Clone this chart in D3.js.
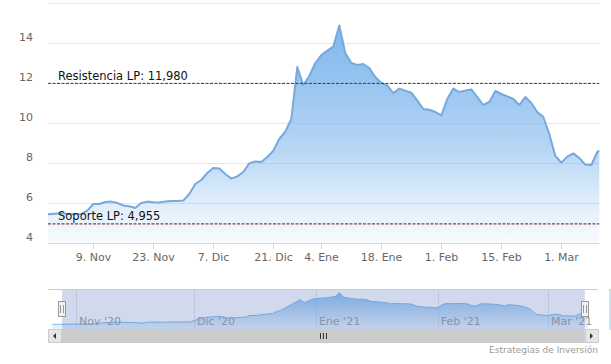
<!DOCTYPE html>
<html><head><meta charset="utf-8">
<script src="https://cdn.jsdelivr.net/npm/d3@7"></script>
<style>body{margin:0;background:#fff}svg{display:block;font-family:"DejaVu Sans",Verdana,sans-serif}</style>
</head><body><svg id="c" width="611" height="364"></svg>
<script>
// ---- data ----
const firstDay = "2020-10-26", lastDay = "2021-03-11";
const holidays = ["2020-12-25", "2021-01-01"];
const values = [
  5.40, 5.42, 5.42, 5.45, 5.48, 5.47, 5.45, 5.44, 5.45, 5.62,
  5.95, 5.95, 6.05, 6.07, 6.00, 5.88, 5.84, 5.75, 6.00, 6.07,
  6.04, 6.03, 6.08, 6.10, 6.10, 6.12, 6.45, 6.95, 7.15, 7.50,
  7.75, 7.72, 7.45, 7.22, 7.33, 7.55, 7.98, 8.08, 8.05, 8.30,
  8.62, 9.20, 9.57, 10.20, 12.80, 11.90, 12.35, 13.00, 13.40, 13.62,
  13.82, 14.88, 13.50, 13.00, 12.90, 12.95, 12.75, 12.30, 12.00, 11.88,
  11.50, 11.72, 11.62, 11.52, 11.12, 10.70, 10.66, 10.55, 10.38, 11.20,
  11.72, 11.55, 11.62, 11.68, 11.30, 10.90, 11.05, 11.60, 11.45, 11.33,
  11.20, 10.90, 11.30, 11.00, 10.55, 10.30, 9.45, 8.35, 8.02, 8.32,
  8.48, 8.25, 7.92, 7.90, 8.55, 8.70, 8.60
];
const yTicks = [4, 6, 8, 10, 12, 14, 16];
const yLabels = ["4", "6", "8", "10", "12", "14", ""];
const xTickDates = ["2020-11-09","2020-11-23","2020-12-07","2020-12-21","2021-01-04","2021-01-18","2021-02-01","2021-02-15","2021-03-01"];
const xTickLabels = ["9. Nov","23. Nov","7. Dic","21. Dic","4. Ene","18. Ene","1. Feb","15. Feb","1. Mar"];
const navTickDates = ["2020-11-01","2020-12-01","2021-01-01","2021-02-01","2021-03-01"];
const navTickLabels = ["Nov '20","Dic '20","Ene '21","Feb '21","Mar '21"];
const resistance = 11.98, support = 4.955;
const resistanceLabel = "Resistencia LP: 11,980";
const supportLabel = "Soporte LP: 4,955";
const credits = "Estrategias de Inversión";

// ---- setup ----
const parse = d3.timeParse("%Y-%m-%d"), fmt = d3.timeFormat("%Y-%m-%d");
const days = d3.timeDay.range(parse(firstDay), d3.timeDay.offset(parse(lastDay), 1))
  .filter(d => d.getDay() % 6 !== 0 && !holidays.includes(fmt(d)));
const data = days.map((d, i) => ({ date: d, i, v: values[i] }));
const idxOf = s => days.findIndex(d => fmt(d) === s);

const svg = d3.select("#c");
const L = 48, R = 599.3, T = 3, B = 243;
const NT = 289, NB = 329, SB = 343;

// ordinal (trading-day) x scale
const x = d3.scaleLinear().domain([idxOf("2020-11-09"), idxOf("2021-03-01")]).range([93.3, 561.3]);
const y = d3.scaleLinear().domain([4, 16]).range([B, T]);

const defs = svg.append("defs");
defs.append("clipPath").attr("id", "clip").append("rect").attr("x", L).attr("y", 0).attr("width", R - L).attr("height", B);
const g1 = defs.append("linearGradient").attr("id", "grad").attr("gradientUnits", "userSpaceOnUse")
  .attr("x1", 0).attr("x2", 0).attr("y1", T).attr("y2", B);
[[0, 1], [0.24, 0.87], [0.61, 0.55], [0.85, 0.22], [1, 0.05]].forEach(([o, a]) =>
  g1.append("stop").attr("offset", o).attr("stop-color", "#7cb5ec").attr("stop-opacity", a));
const g2 = defs.append("linearGradient").attr("id", "grad2").attr("gradientUnits", "userSpaceOnUse")
  .attr("x1", 0).attr("x2", 0).attr("y1", NT).attr("y2", NB);
[[0, 1], [1, 0.15]].forEach(([o, a]) =>
  g2.append("stop").attr("offset", o).attr("stop-color", "#7cb5ec").attr("stop-opacity", a));

// gridlines
svg.append("g").selectAll("line").data(yTicks).join("line")
  .attr("x1", L).attr("x2", R).attr("y1", d => Math.round(y(d)) + 0.5).attr("y2", d => Math.round(y(d)) + 0.5)
  .attr("stroke", "#e6e6e6");
svg.append("g").selectAll("text").data(yTicks).join("text")
  .attr("x", 33).attr("y", d => y(d) - 2).attr("text-anchor", "end")
  .attr("font-size", 11).attr("fill", "#666").text((d, i) => yLabels[i]);

// area + line
const plot = svg.append("g").attr("clip-path", "url(#clip)");
plot.append("path").datum(data)
  .attr("d", d3.area().x(d => x(d.i)).y0(B).y1(d => y(d.v)))
  .attr("fill", "url(#grad)");
plot.append("path").datum(data)
  .attr("d", d3.line().x(d => x(d.i)).y(d => y(d.v)))
  .attr("fill", "none").attr("stroke", "#76a9dc").attr("stroke-width", 2).attr("stroke-linejoin", "round");

// x axis
svg.append("line").attr("x1", L).attr("x2", R).attr("y1", B + 0.5).attr("y2", B + 0.5).attr("stroke", "#ccd6eb");
const xt = svg.append("g").selectAll("g").data(xTickDates).join("g")
  .attr("transform", d => `translate(${Math.round(x(idxOf(d))) + 0.5},0)`);
xt.append("line").attr("y1", B).attr("y2", B + 6).attr("stroke", "#ccd6eb");
xt.append("text").attr("y", 260.5).attr("text-anchor", "middle").attr("font-size", 11).attr("fill", "#666")
  .text((d, i) => xTickLabels[i]);

// plot lines
[[resistance, "#1f4f1f", resistanceLabel], [support, "#7a0f0f", supportLabel]].forEach(([v, c, lab]) => {
  svg.append("line").attr("x1", L).attr("x2", R).attr("y1", y(v)).attr("y2", y(v))
    .attr("stroke", c).attr("stroke-dasharray", "3,1.5");
  svg.append("text").attr("x", 58).attr("y", y(v) - 3.5).attr("font-size", 11.5).attr("fill", "#111").text(lab);
});

// ---- navigator ----
const nx = d3.scaleTime().domain([parse("2020-11-01"), parse("2021-03-01")]).range([76, 548]);
const ny = d3.scaleLinear().domain([4, 16]).range([NB, NT]);
defs.append("clipPath").attr("id", "nclip").append("rect").attr("x", L).attr("y", NT).attr("width", 550).attr("height", NB - NT);
const nav = svg.append("g");
nav.append("g").selectAll("line").data(navTickDates).join("line")
  .attr("x1", d => Math.round(nx(parse(d))) + 0.5).attr("x2", d => Math.round(nx(parse(d))) + 0.5)
  .attr("y1", NT).attr("y2", NB).attr("stroke", "#e6e6e6");
const ng = nav.append("g").attr("clip-path", "url(#nclip)");
ng.append("path").datum(data).attr("d", d3.area().x(d => nx(d.date)).y0(NB).y1(d => ny(d.v))).attr("fill", "url(#grad2)");
ng.append("path").datum(data).attr("d", d3.line().x(d => nx(d.date)).y(d => ny(d.v)))
  .attr("fill", "none").attr("stroke", "#7cb5ec").attr("stroke-width", 1);
nav.append("g").selectAll("text").data(navTickDates).join("text")
  .attr("x", d => nx(parse(d)) + 3).attr("y", 325).attr("font-size", 11).attr("fill", "#999")
  .text((d, i) => navTickLabels[i]);

// selected range from main view extent
const dateAt = px => {
  const f = x.invert(px), i0 = Math.floor(f), t = f - i0;
  const a = days[Math.max(0, Math.min(days.length - 1, i0))], b = days[Math.max(0, Math.min(days.length - 1, i0 + 1))];
  return new Date(+a + t * (b - a));
};
const h1 = nx(dateAt(L)), h2 = Math.min(585, nx(dateAt(R)) + 4);
nav.append("rect").attr("x", h1).attr("y", NT).attr("width", h2 - h1).attr("height", NB - NT)
  .attr("fill", "rgba(102,133,194,0.3)");
nav.append("line").attr("x1", L).attr("x2", 598).attr("y1", NT + 0.5).attr("y2", NT + 0.5).attr("stroke", "#ccc");
[h1, h2].forEach(hx => {
  const hh = nav.append("g").attr("transform", `translate(${Math.round(hx)},${(NT + NB) / 2})`);
  hh.append("rect").attr("x", -3.5).attr("y", -7.5).attr("width", 7).attr("height", 15)
    .attr("fill", "#f2f2f2").attr("stroke", "#999");
  hh.append("line").attr("x1", -1.5).attr("x2", -1.5).attr("y1", -4).attr("y2", 4).attr("stroke", "#999");
  hh.append("line").attr("x1", 1.5).attr("x2", 1.5).attr("y1", -4).attr("y2", 4).attr("stroke", "#999");
});

// scrollbar
const sb = svg.append("g");
sb.append("rect").attr("x", L).attr("y", NB).attr("width", 550).attr("height", SB - NB).attr("fill", "#f2f2f2");
sb.append("rect").attr("x", h1).attr("y", NB).attr("width", h2 - h1).attr("height", SB - NB).attr("fill", "#cccccc");
[[L, 1], [585, -1]].forEach(([bx, dir]) => {
  sb.append("rect").attr("x", bx + 0.5).attr("y", NB + 0.5).attr("width", 13).attr("height", SB - NB - 1)
    .attr("fill", "#e6e6e6").attr("stroke", "#ccc");
  const cx = bx + 6.5, cy = (NB + SB) / 2;
  sb.append("path").attr("d", `M${cx - 1.5 * dir},${cy}L${cx + 1.5 * dir},${cy - 3}L${cx + 1.5 * dir},${cy + 3}Z`)
    .attr("fill", "#333");
});
const gx = Math.round((h1 + h2) / 2);
[-3, 0, 3].forEach(o => sb.append("line").attr("x1", gx + o + 0.5).attr("x2", gx + o + 0.5)
  .attr("y1", NB + 4).attr("y2", SB - 4).attr("stroke", "#333"));

// side artefact bar
svg.append("rect").attr("x", 609).attr("y", NT).attr("width", 2).attr("height", NB - NT + 1).attr("fill", "#cfe0f3");

// credits
svg.append("text").attr("x", 598).attr("y", 353).attr("text-anchor", "end").attr("font-size", 9)
  .attr("fill", "#999").text(credits);
</script></body></html>
